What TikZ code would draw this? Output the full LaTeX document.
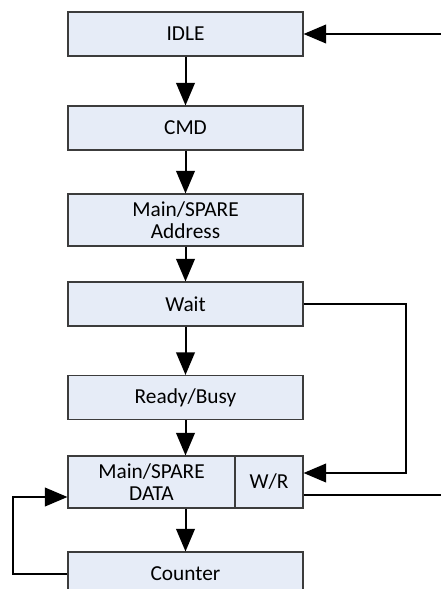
\documentclass[tikz,border=0pt]{standalone}
\usepackage{fontspec}
\setmainfont{Carlito}
\usepackage{xcolor}
\usetikzlibrary{arrows.meta}

\definecolor{boxfill}{RGB}{230,236,247}
\definecolor{boxline}{RGB}{60,60,60}

\tikzset{
  state/.style={draw=boxline, fill=boxfill, line width=0.8pt, minimum width=176.25pt, minimum height=33pt, inner sep=0pt, align=center, font=\fontsize{16}{16.5}\selectfont},
  flow/.style={line width=1.5pt, -{Triangle[length=17pt,width=14pt]}},
  plain/.style={line width=1.5pt}
}

\begin{document}
\begin{tikzpicture}[x=0.75pt,y=0.75pt,yscale=-1,xscale=1]
\useasboundingbox (0,0) rectangle (441,589);
\clip (0,0) rectangle (441,589);

% States
\node [state] (idle) at (185.5,34) {IDLE};
\node [state] (cmd) at (185.5,128) {CMD};
\node [state, minimum height=39pt] (addr) at (185.5,220) {Main/SPARE\\Address};
\node [state] (wait) at (185.5,304) {Wait};
\node [state] (ready) at (185.5,397.5) {Ready/Busy};
\node [state, minimum width=125.25pt, minimum height=39pt] (data) at (151.5,482) {Main/SPARE\\DATA};
\node [state, minimum width=51pt, minimum height=39pt] (wr) at (269,482) {W/R};
\node [state] (counter) at (185.5,574) {Counter};

% Free ends and bends
\coordinate (idlein) at (445,34);
\coordinate (rloop) at (406,400);
\coordinate (wrout) at (445,495);
\coordinate (lloop) at (13,530);

% Main flow
\draw [flow] (idle) -- (cmd);
\draw [flow] (cmd) -- (addr);
\draw [flow] (addr) -- (wait);
\draw [flow] (wait) -- (ready);
\draw [flow] (ready.south) -- (ready.south |- data.north);
\draw [flow] (counter.north |- data.south) -- (counter.north);

% Loops
\draw [flow] (idlein) -- (idle.east);
\draw [flow] (wait.east) -| (rloop) |- ([yshift=-6.75pt]wr.east);
\draw [plain] ([yshift=9.75pt]wr.east) -- (wrout);
\draw [flow] (counter.west) -| (lloop) |- ([yshift=11.25pt]data.west);

\end{tikzpicture}
\end{document}
